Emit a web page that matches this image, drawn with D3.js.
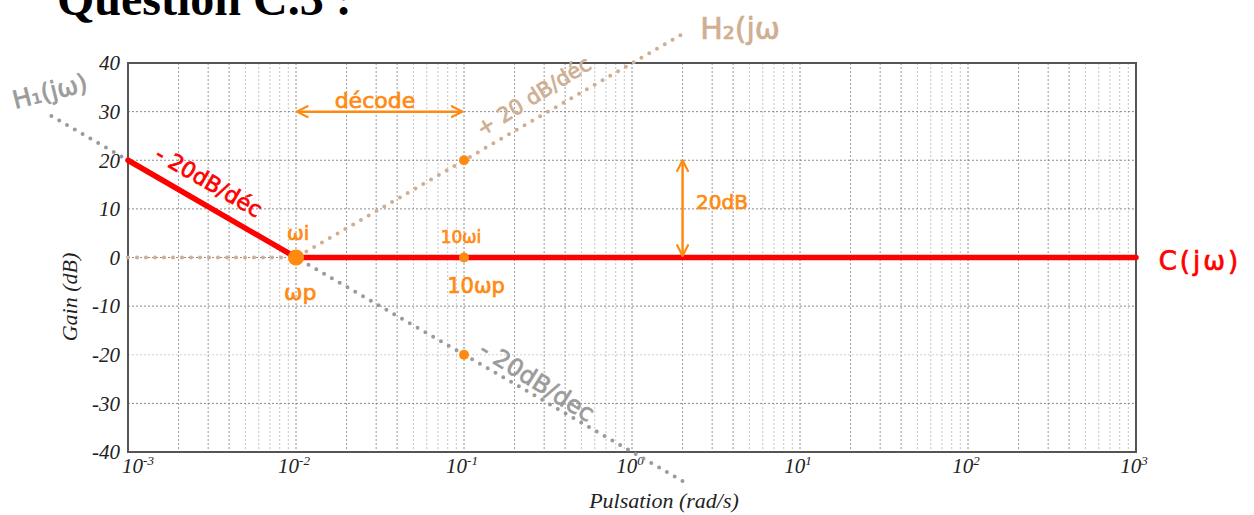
<!DOCTYPE html>
<html lang="fr">
<head>
<meta charset="UTF-8" />
<title>Question C.3</title>
<script src="https://d3js.org/d3.v7.min.js"></script>
<style>
  html, body { margin: 0; padding: 0; background: #fff; overflow: hidden; }
  svg { display: block; }
  .tick-lbl { font-family: 'Liberation Serif', serif; font-style: italic; font-size: 21px; fill: #222; }
  .axis-title { font-family: 'Liberation Serif', serif; font-style: italic; font-size: 22px; fill: #222; }
  .hand { font-family: 'DejaVu Sans', sans-serif; stroke-width: 0.7px; }
</style>
</head>
<body>
<svg id="chart" width="1254" height="515"></svg>
<script>
// --- data ---
const decades = [-3, -2, -1, 0, 1, 2, 3];
const minorSteps = [2, 3, 4, 5, 6, 7, 8, 9];
const gainTicks = [-40, -30, -20, -10, 0, 10, 20, 30, 40];

// corrected response C(jw)
const cOmega = [0.001, 0.01, 1000];
const cGain = [20, 0, 0];
// H1(jw) : -20 dB/dec through wp
const h1Omega = [0.00035, 2.15];
const h1Gain = [29.1, -46.6];
// H2(jw) : flat then +20 dB/dec after wi
const h2Omega = [0.001, 0.01, 2.15];
const h2Gain = [0, 0, 46.6];
// orange markers
const ptOmega = [0.01, 0.1, 0.1, 0.1];
const ptGain = [0, 20, 0, -20];

const svg = d3.select("#chart");
const x = d3.scaleLog().domain([1e-3, 1e3]).range([128, 1136]);
const y = d3.scaleLinear().domain([-40, 40]).range([452, 63]);

const ORANGE = "#ff8a12", RED = "#ff0000", GREY = "#9b9b9b", TAN = "#cfae92";

// title (cut at top of the page, as in the source)
svg.append("text")
  .attr("x", 57).attr("y", 15)
  .attr("font-family", "'Liberation Serif', serif")
  .attr("font-weight", "bold").attr("font-size", 48)
  .text("Question C.3 :");

// grid
const grid = svg.append("g");
decades.slice(0, -1).forEach(d => {
  minorSteps.forEach(m => {
    const v = m * Math.pow(10, d);
    grid.append("line")
      .attr("x1", x(v)).attr("x2", x(v)).attr("y1", y(40)).attr("y2", y(-40))
      .attr("stroke", m <= 4 ? "#999" : "#c4c4c4")
      .attr("stroke-width", 1).attr("stroke-dasharray", "2,2");
  });
});
decades.forEach(d => {
  const v = Math.pow(10, d);
  grid.append("line")
    .attr("x1", x(v)).attr("x2", x(v)).attr("y1", y(40)).attr("y2", y(-40))
    .attr("stroke", "#888").attr("stroke-width", 1).attr("stroke-dasharray", "2,2");
});
gainTicks.forEach(g => {
  grid.append("line")
    .attr("x1", x(1e-3)).attr("x2", x(1e3)).attr("y1", y(g)).attr("y2", y(g))
    .attr("stroke", g === -20 ? "#d0d0d0" : "#8a8a8a")
    .attr("stroke-width", 1).attr("stroke-dasharray", "2,2");
});

// frame
svg.append("rect")
  .attr("x", x(1e-3)).attr("y", y(40))
  .attr("width", x(1e3) - x(1e-3)).attr("height", y(-40) - y(40))
  .attr("fill", "none").attr("stroke", "#555").attr("stroke-width", 2);

// y tick labels
svg.append("g").selectAll("text")
  .data(gainTicks).join("text")
  .attr("class", "tick-lbl")
  .attr("x", 120).attr("y", d => y(d)).attr("dy", "0.35em")
  .attr("text-anchor", "end")
  .text(d => d);

// x tick labels : 10^n
const xl = svg.append("g").selectAll("text")
  .data(decades).join("text")
  .attr("class", "tick-lbl")
  .attr("x", (d, i) => x(Math.pow(10, d)) + (i === 0 ? 10 : -2))
  .attr("y", 473)
  .attr("text-anchor", "middle");
xl.append("tspan").text("10");
xl.append("tspan").attr("dy", -8).attr("font-size", 13).text(d => d < 0 ? "-" + (-d) : d);

// axis titles
svg.append("text").attr("class", "axis-title")
  .attr("transform", "translate(77,297) rotate(-90)")
  .attr("font-size", 25)
  .attr("text-anchor", "middle").text("Gain (dB)");
svg.append("text").attr("class", "axis-title")
  .attr("x", 664).attr("y", 508)
  .attr("text-anchor", "middle").text("Pulsation (rad/s)");

const line = d3.line().x(d => x(d[0])).y(d => y(d[1]));

// asymptotes
svg.append("path")
  .attr("d", line(d3.zip(h1Omega, h1Gain)))
  .attr("fill", "none").attr("stroke", GREY).attr("stroke-width", 4)
  .attr("stroke-linecap", "round").attr("stroke-dasharray", "0,9");
svg.append("path")
  .attr("d", line(d3.zip(h2Omega, h2Gain)))
  .attr("fill", "none").attr("stroke", TAN).attr("stroke-width", 4)
  .attr("stroke-linecap", "round").attr("stroke-dasharray", "0,9");
svg.append("path")
  .attr("d", line(d3.zip(cOmega, cGain)))
  .attr("fill", "none").attr("stroke", RED).attr("stroke-width", 5.5)
  .attr("stroke-linecap", "round").attr("stroke-linejoin", "round");

// points
svg.append("g").selectAll("circle")
  .data(d3.zip(ptOmega, ptGain)).join("circle")
  .attr("cx", d => x(d[0])).attr("cy", d => y(d[1]))
  .attr("r", (d, i) => i === 0 ? 8 : 5)
  .attr("fill", ORANGE);

// arrows
const defs = svg.append("defs");
defs.append("marker")
  .attr("id", "head").attr("viewBox", "0 0 12 12")
  .attr("refX", 11).attr("refY", 6)
  .attr("markerWidth", 13).attr("markerHeight", 13)
  .attr("markerUnits", "userSpaceOnUse")
  .attr("orient", "auto-start-reverse")
  .append("path").attr("d", "M1,1 L11,6 L1,11")
  .attr("fill", "none").attr("stroke", ORANGE).attr("stroke-width", 2)
  .attr("stroke-linecap", "round").attr("stroke-linejoin", "round");

svg.append("line")
  .attr("x1", x(0.0101)).attr("x2", x(0.098)).attr("y1", y(30)).attr("y2", y(30))
  .attr("stroke", ORANGE).attr("stroke-width", 2.5)
  .attr("marker-start", "url(#head)").attr("marker-end", "url(#head)");
svg.append("line")
  .attr("x1", x(2)).attr("x2", x(2)).attr("y1", y(20)).attr("y2", y(0.3))
  .attr("stroke", ORANGE).attr("stroke-width", 2.5)
  .attr("marker-start", "url(#head)").attr("marker-end", "url(#head)");

// handwritten annotations (placed in data coordinates)
const notes = [
  { t: "décode", w: 0.0295, g: 32.4, c: ORANGE, s: 22, r: 0, ls: 0 },
  { t: "- 20dB/déc", w: 0.00303, g: 15.6, c: RED, s: 22, r: 30, ls: 0 },
  { t: "ωi", w: 0.0103, g: 5.0, c: ORANGE, s: 20, r: 0, ls: 0 },
  { t: "ωp", w: 0.0106, g: -7.2, c: ORANGE, s: 22, r: 0, ls: 0 },
  { t: "10ωi", w: 0.096, g: 4.3, c: ORANGE, s: 17, r: 0, ls: 0 },
  { t: "10ωp", w: 0.118, g: -5.7, c: ORANGE, s: 21, r: 0, ls: 0 },
  { t: "+ 20 dB/déc", w: 0.26, g: 33.2, c: TAN, s: 21, r: -32, ls: 0 },
  { t: "H₂(jω", w: 4.4, g: 47.0, c: TAN, s: 30, r: 0, ls: 0 },
  { t: "20dB", w: 3.43, g: 11.4, c: ORANGE, s: 20, r: 0, ls: 0 },
  { t: "- 20dB/dec", w: 0.272, g: -25.4, c: GREY, s: 24, r: 32, ls: 0 },
  { t: "C(jω)", w: 2400, g: -0.7, c: RED, s: 26, r: 0, ls: 3 },
  { t: "H₁(jω)", w: 0.000343, g: 34.2, c: GREY, s: 25, r: -14, ls: 0 }
];
svg.append("g").selectAll("text")
  .data(notes).join("text")
  .attr("class", "hand")
  .attr("transform", d => `translate(${x(d.w)},${y(d.g)}) rotate(${d.r})`)
  .attr("text-anchor", "middle").attr("dy", "0.35em")
  .attr("font-size", d => d.s).attr("letter-spacing", d => d.ls)
  .attr("fill", d => d.c).attr("stroke", d => d.c)
  .text(d => d.t);
</script>
</body>
</html>
